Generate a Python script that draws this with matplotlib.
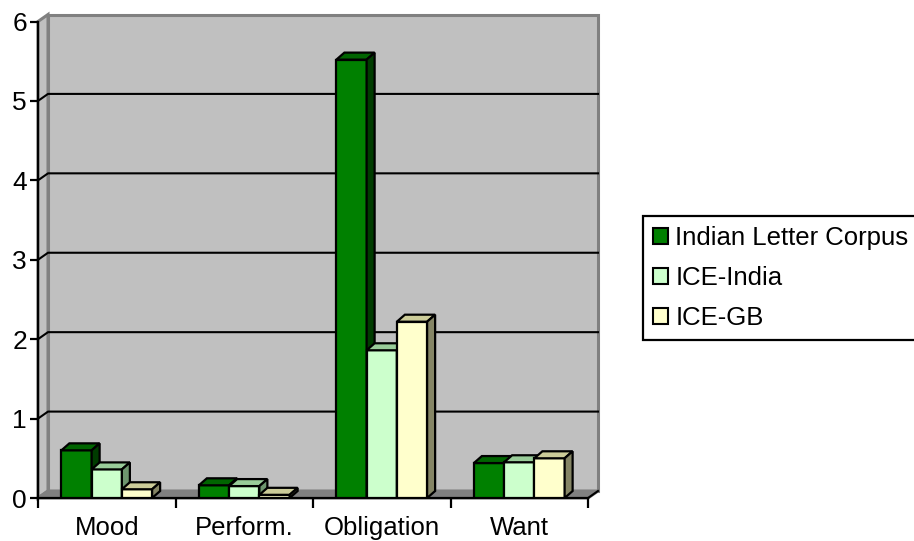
import matplotlib
matplotlib.use("Agg")
import matplotlib.pyplot as plt
from matplotlib.patches import Polygon, Patch

plt.rcParams['font.family'] = ['Liberation Sans', 'DejaVu Sans']

# Частота по категориям модальности (на 10 000 слов)
categories = ["Mood", "Perform.", "Obligation", "Want"]
series_names = ["Indian Letter Corpus", "ICE-India", "ICE-GB"]
ilc = [0.60, 0.16, 5.52, 0.44]
ice_india = [0.36, 0.15, 1.86, 0.45]
ice_gb = [0.11, 0.04, 2.22, 0.50]
yticks = [0, 1, 2, 3, 4, 5, 6]

# цвета: лицевая грань, верх, бок
front_colors = ["#008000", "#CCFFCC", "#FFFFCC"]
top_colors = ["#006400", "#99CC99", "#CCCC99"]
side_colors = ["#003C00", "#6E966E", "#858565"]

W, H = 914, 541
fig = plt.figure(figsize=(W / 100, H / 100), dpi=100)
left, right = 38 / W, 588 / W
bottom, top = 43 / H, 519.5 / H
ax = fig.add_axes([left, bottom, right - left, top - bottom])
x0, x1 = -0.5, len(categories) - 0.5
ymax = yticks[-1]
ax.set_xlim(x0, x1)
ax.set_ylim(0, ymax)
ax.patch.set_visible(False)

# пересчёт смещения "глубины" из пикселей в единицы данных
px_x = W * (right - left) / (x1 - x0)
px_y = H * (top - bottom) / ymax
wdx, wdy = 10 / px_x, 7 / px_y   # стенка
bdx, bdy = 8 / px_x, 7 / px_y    # столбцы

wall_kw = dict(closed=True, clip_on=False, zorder=0.5, lw=2.2, edgecolor="#808080")
# задняя стенка
ax.add_patch(Polygon([(x0 + wdx, wdy), (x1 + wdx, wdy), (x1 + wdx, ymax + wdy), (x0 + wdx, ymax + wdy)],
                     facecolor="#C0C0C0", **wall_kw))
# боковая стенка
ax.add_patch(Polygon([(x0, 0), (x0 + wdx, wdy), (x0 + wdx, ymax + wdy), (x0, ymax)],
                     facecolor="#C0C0C0", **wall_kw))
# пол
ax.add_patch(Polygon([(x0, 0), (x1, 0), (x1 + wdx, wdy), (x0 + wdx, wdy)],
                     facecolor="#808080", **wall_kw))

# линии сетки на стенках
for v in yticks[1:-1]:
    ax.plot([x0, x0 + wdx, x1 + wdx], [v, v + wdy, v + wdy], color="black", lw=1.5,
            clip_on=False, zorder=1)
ax.plot([x1, x1 + wdx], [0, wdy], color="black", lw=1.5, clip_on=False, zorder=2.6)

# 3D-столбцы
bw = 0.22
data = [ilc, ice_india, ice_gb]
for j, vals in enumerate(data):
    xs = [i - 1.5 * bw + j * bw for i in range(len(categories))]
    z = 3 + j
    ax.bar(xs, vals, width=bw, align="edge", color=front_colors[j], edgecolor="black",
           lw=1.6, zorder=z)
    for xl, h in zip(xs, vals):
        xr = xl + bw
        ax.add_patch(Polygon([(xl, h), (xr, h), (xr + bdx, h + bdy), (xl + bdx, h + bdy)],
                             closed=True, facecolor=top_colors[j], edgecolor="black",
                             lw=1.6, zorder=z, clip_on=False))
        ax.add_patch(Polygon([(xr, 0), (xr + bdx, bdy), (xr + bdx, h + bdy), (xr, h)],
                             closed=True, facecolor=side_colors[j], edgecolor="black",
                             lw=1.6, zorder=z, clip_on=False))

# оси
for s in ["top", "right"]:
    ax.spines[s].set_visible(False)
for s in ["left", "bottom"]:
    ax.spines[s].set_linewidth(1.6)
    ax.spines[s].set_color("black")

ax.set_yticks(yticks)
ax.tick_params(axis="y", direction="out", length=6, width=1.6, pad=2, labelsize=19)
ax.set_xticks([x0 + k for k in range(len(categories) + 1)])
ax.set_xticklabels([])
ax.set_xticks(range(len(categories)), minor=True)
ax.set_xticklabels(categories, minor=True, fontsize=18.5)
ax.tick_params(axis="x", which="major", direction="out", length=7, width=1.6)
ax.tick_params(axis="x", which="minor", length=0, pad=13)

handles = [Patch(facecolor=c, edgecolor="black", lw=1.5) for c in front_colors]
leg = fig.legend(handles, series_names, loc="upper left",
                 bbox_to_anchor=(643 / W, 1 - 216 / H), frameon=True, fancybox=False,
                 edgecolor="black", framealpha=1, fontsize=18.5, handlelength=0.56,
                 handleheight=0.56, handletextpad=0.3, labelspacing=0.62,
                 borderpad=0.4, borderaxespad=0)
leg.get_frame().set_linewidth(1.6)

fig.savefig("out.png", dpi=100)
